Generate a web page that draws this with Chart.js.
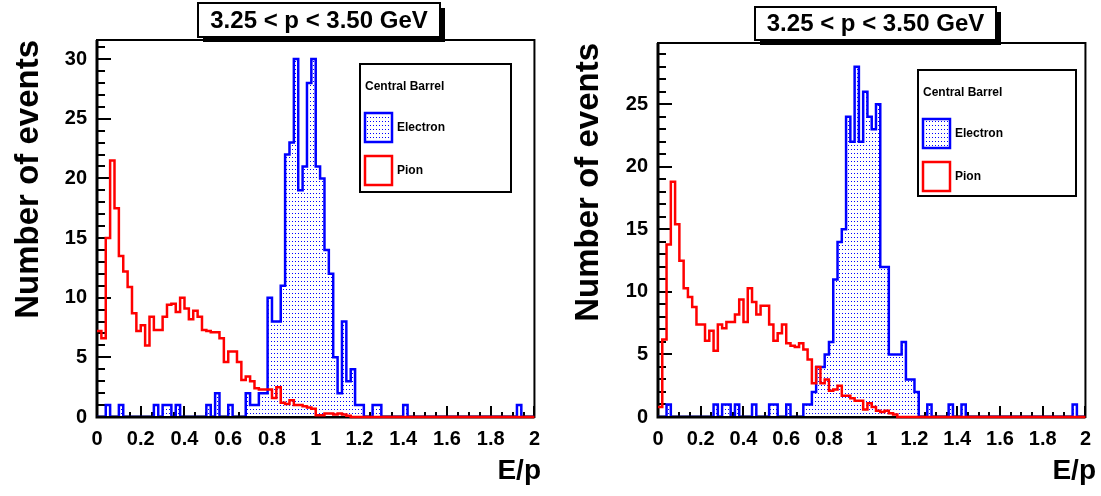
<!DOCTYPE html>
<html>
<head>
<meta charset="utf-8">
<script src="https://cdn.jsdelivr.net/npm/chart.js@4.4.0/dist/chart.umd.min.js"></script>
<style>
  html, body { margin: 0; padding: 0; background: #fff; }
  #wrap { position: relative; width: 1101px; height: 496px; overflow: hidden; }
  canvas { position: absolute; top: 0; }
  #left { left: 0; }
  #right { left: 550px; }
</style>
</head>
<body>
<div id="wrap">
  <canvas id="left" width="550" height="496" style="width:550px;height:496px"></canvas>
  <canvas id="right" width="551" height="496" style="width:551px;height:496px"></canvas>
</div>
<script>
        // histogram binning: 100 bins on E/p from 0 to 2
        const binLow = Array.from({length: 100}, (_, i) => +(i * 0.02).toFixed(2));
        const binHigh = 2;

        const xTicks = [0, 0.2, 0.4, 0.6, 0.8, 1, 1.2, 1.4, 1.6, 1.8, 2];
        const yTicksLeft = [0, 5, 10, 15, 20, 25, 30];
        const yTicksRight = [0, 5, 10, 15, 20, 25];

        const titleText = '3.25 < p < 3.50 GeV';
        const legendHeader = 'Central Barrel';
        const seriesNames = ['Electron', 'Pion'];
        const xTitle = 'E/p';
        const yTitle = 'Number of events';

        // left pad
        const electronLeft = [
            0, 0, 1, 0, 0, 1, 0, 0, 0, 0,
            0, 0, 0, 1, 0, 1, 1, 0, 1, 0,
            0, 0, 0, 0, 0, 1, 0, 2, 0, 0,
            1, 0, 0, 0, 2, 1, 1, 2, 2, 10,
            8, 8, 11, 22, 23, 30, 19, 21, 28, 30,
            21, 20, 14, 12, 5, 2, 8, 3, 4, 1,
            1, 0, 0, 1, 1, 0, 0, 0, 0, 0,
            1, 0, 0, 0, 0, 0, 0, 0, 0, 0,
            0, 0, 0, 0, 0, 0, 0, 0, 0, 0,
            0, 0, 0, 0, 0, 0, 1, 0, 0, 0
        ];
        const pionLeft = [
            7.2, 6.6, 15.0, 21.5, 17.5, 13.5, 12.2, 10.9, 8.7, 7.2,
            7.7, 6.0, 8.4, 7.3, 7.3, 8.4, 9.4, 9.5, 8.8, 10.0,
            9.1, 8.2, 8.9, 8.4, 7.3, 7.2, 7.1, 7.1, 6.6, 4.6,
            5.5, 5.5, 4.6, 3.1, 3.4, 3.0, 2.4, 2.3, 2.3, 2.3,
            1.6, 2.5, 1.2, 1.1, 1.4, 1.0, 1.0, 0.9, 0.8, 0.7,
            0.15, 0.15, 0.3, 0.3, 0.2, 0.3, 0.2, 0.1, 0, 0,
            0, 0, 0, 0, 0, 0, 0, 0, 0, 0,
            0, 0, 0, 0, 0, 0, 0, 0, 0, 0,
            0, 0, 0, 0, 0, 0, 0, 0, 0, 0,
            0, 0, 0, 0, 0, 0, 0, 0, 0, 0
        ];

        // right pad
        const electronRight = [
            0, 0, 1, 0, 0, 0, 0, 0, 0, 0,
            0, 0, 0, 1, 0, 1, 1, 0, 1, 0,
            0, 0, 1, 0, 0, 0, 1, 1, 0, 0,
            1, 0, 0, 0, 1, 1, 2, 4, 4, 5,
            6, 11, 14, 15, 24, 22, 28, 22, 26, 24,
            23, 25, 12, 12, 5, 5, 5, 6, 3, 3,
            2, 0, 0, 1, 0, 0, 0, 0, 1, 0,
            0, 1, 0, 0, 0, 0, 0, 0, 0, 0,
            0, 0, 0, 0, 0, 0, 0, 0, 0, 0,
            0, 0, 0, 0, 0, 0, 0, 1, 0, 0
        ];
        const pionRight = [
            0.8, 6.2, 13.8, 18.8, 15.4, 12.5, 10.3, 9.6, 8.8, 7.4,
            7.4, 6.1, 6.9, 5.3, 7.4, 7.1, 7.6, 7.6, 8.2, 9.4,
            7.6, 10.3, 9.2, 8.2, 8.9, 8.9, 7.4, 6.1, 6.7, 7.4,
            5.9, 5.7, 5.6, 5.9, 5.4, 4.6, 2.7, 4.0, 2.7, 3.0,
            2.1, 2.2, 2.5, 1.7, 1.7, 1.5, 1.3, 1.3, 0.6, 1.1,
            0.8, 0.5, 0.4, 0.5, 0.3, 0.2, 0, 0, 0, 0,
            0, 0, 0, 0, 0, 0, 0, 0, 0, 0,
            0, 0, 0, 0, 0, 0, 0, 0, 0, 0,
            0, 0, 0, 0, 0, 0, 0, 0, 0, 0,
            0, 0, 0, 0, 0, 0, 0, 0, 0, 0
        ];

        const FONT = "'Liberation Sans', Arial, Helvetica, sans-serif";
        Chart.defaults.font.family = FONT;
        Chart.defaults.color = '#000';

        // step points: value held from each bin's low edge to the next
        function toSteps(values) {
            const pts = binLow.map((x, i) => ({x: x, y: values[i]}));
            pts.push({x: binHigh, y: values[values.length - 1]});
            return pts;
        }

        // sparse blue dots, like ROOT fill style 3001
        function dotPattern(ctx) {
            const c = document.createElement('canvas');
            c.width = 3; c.height = 4;
            const g = c.getContext('2d');
            g.fillStyle = '#ffffff';
            g.fillRect(0, 0, 3, 4);
            g.fillStyle = '#0000ff';
            g.fillRect(1, 1, 1, 1);
            return ctx.createPattern(c, 'repeat');
        }

        function line(ctx, x1, y1, x2, y2) {
            ctx.beginPath();
            ctx.moveTo(x1, y1);
            ctx.lineTo(x2, y2);
            ctx.stroke();
        }

        // ROOT-style frame, inward ticks, title box, legend and axis titles
        const rootDecor = {
            id: 'rootDecor',
            beforeDatasetsDraw(chart, args, o) {
                const {ctx, chartArea: a, scales: {x, y}} = chart;
                ctx.save();
                ctx.strokeStyle = '#000';
                ctx.lineWidth = 2;
                ctx.strokeRect(a.left, a.top, a.right - a.left, a.bottom - a.top);
                ctx.lineWidth = 3;
                ctx.beginPath();
                ctx.moveTo(a.left, a.top);
                ctx.lineTo(a.left, a.bottom);
                ctx.lineTo(a.right, a.bottom);
                ctx.stroke();
                ctx.lineWidth = 2;
                for (let k = 0; k <= 40; k++) {
                    const px = Math.round(x.getPixelForValue(k * 0.05));
                    line(ctx, px, a.bottom, px, a.bottom - (k % 4 === 0 ? 11 : 5));
                }
                for (let v = 0; v <= Math.floor(y.max); v++) {
                    const py = Math.round(y.getPixelForValue(v));
                    line(ctx, a.left, py, a.left + (v % 5 === 0 ? 14 : 8), py);
                }
                ctx.restore();
            },
            afterDraw(chart, args, o) {
                const {ctx, chartArea: a} = chart;
                ctx.save();
                ctx.fillStyle = '#000';

                // axis titles
                ctx.font = 'bold 28px ' + FONT;
                ctx.textAlign = 'right';
                ctx.textBaseline = 'alphabetic';
                ctx.fillText(xTitle, o.xTitleX, 479);
                ctx.save();
                ctx.translate(o.yTitleX, a.top);
                ctx.rotate(-Math.PI / 2);
                ctx.font = 'bold 33px ' + FONT;
                ctx.fillText(yTitle, 0, 0);
                ctx.restore();

                // title box with shadow
                const t = o.titleBox;
                ctx.fillStyle = '#000';
                ctx.fillRect(t.x + 5, t.y + 5, t.w, t.h);
                ctx.fillStyle = '#fff';
                ctx.fillRect(t.x, t.y, t.w, t.h);
                ctx.strokeStyle = '#000';
                ctx.lineWidth = 2;
                ctx.strokeRect(t.x, t.y, t.w, t.h);
                ctx.fillStyle = '#000';
                ctx.font = 'bold 24px ' + FONT;
                ctx.textAlign = 'center';
                ctx.textBaseline = 'middle';
                ctx.fillText(titleText, t.x + t.w / 2, t.y + t.h / 2 + 1);

                // legend
                const L = o.legend;
                ctx.fillStyle = '#fff';
                ctx.fillRect(L.x, L.y, L.w, L.h);
                ctx.strokeStyle = '#000';
                ctx.strokeRect(L.x, L.y, L.w, L.h);
                ctx.fillStyle = '#000';
                ctx.font = 'bold 12px ' + FONT;
                ctx.textAlign = 'left';
                ctx.fillText(legendHeader, L.x + 5, L.y + 23);
                ctx.fillStyle = chart.data.datasets[1].backgroundColor;
                ctx.fillRect(L.x + 5, L.y + 49, 27, 29);
                ctx.lineWidth = 2.5;
                ctx.strokeStyle = '#0000ff';
                ctx.strokeRect(L.x + 5, L.y + 49, 27, 29);
                ctx.strokeStyle = '#ff0000';
                ctx.strokeRect(L.x + 5, L.y + 92, 27, 29);
                ctx.fillStyle = '#000';
                ctx.fillText(seriesNames[0], L.x + 37, L.y + 64);
                ctx.fillText(seriesNames[1], L.x + 37, L.y + 107);
                ctx.restore();
            }
        };

        function makePanel(id, electron, pion, yMax, yTicks, layout) {
            const ctx = document.getElementById(id).getContext('2d');
            return new Chart(ctx, {
                type: 'line',
                data: {
                    datasets: [
                        {
                            label: seriesNames[1],
                            data: toSteps(pion),
                            borderColor: '#ff0000',
                            borderWidth: 2.5,
                            stepped: 'before',
                            pointRadius: 0,
                            fill: false,
                            order: 0,
                            clip: {left: 2, top: 2, right: 2, bottom: 2}
                        },
                        {
                            label: seriesNames[0],
                            data: toSteps(electron),
                            borderColor: '#0000ff',
                            backgroundColor: dotPattern(ctx),
                            borderWidth: 2.5,
                            stepped: 'before',
                            pointRadius: 0,
                            fill: 'origin',
                            order: 1,
                            clip: {left: 0, top: 2, right: 0, bottom: -1}
                        }
                    ]
                },
                options: {
                    responsive: false,
                    animation: false,
                    layout: {padding: {left: 0, top: layout.top, right: layout.right, bottom: 0}},
                    scales: {
                        x: {
                            type: 'linear',
                            min: 0,
                            max: 2,
                            grid: {display: false, drawTicks: false},
                            border: {display: false},
                            afterFit: s => { s.height = 79; },
                            afterBuildTicks: s => { s.ticks = xTicks.map(v => ({value: v})); },
                            ticks: {
                                autoSkip: false,
                                maxRotation: 0,
                                padding: 10,
                                font: {size: 20, weight: 'bold'},
                                callback: v => String(v)
                            }
                        },
                        y: {
                            type: 'linear',
                            min: 0,
                            max: yMax,
                            grid: {display: false, drawTicks: false},
                            border: {display: false},
                            afterFit: s => { s.width = layout.left; },
                            afterBuildTicks: s => { s.ticks = yTicks.map(v => ({value: v})); },
                            ticks: {
                                padding: 10,
                                font: {size: 20, weight: 'bold'},
                                callback: v => String(v)
                            }
                        }
                    },
                    plugins: {
                        legend: {display: false},
                        tooltip: {enabled: false},
                        rootDecor: layout.decor
                    }
                },
                plugins: [rootDecor]
            });
        }

        makePanel('left', electronLeft, pionLeft, 31.6, yTicksLeft, {
            left: 97, top: 40, right: 9,
            decor: {
                xTitleX: 541,
                yTitleX: 38,
                titleBox: {x: 198, y: 3, w: 242, h: 34},
                legend: {x: 360, y: 64, w: 151, h: 128}
            }
        });

        makePanel('right', electronRight, pionRight, 29.9, yTicksRight, {
            left: 108, top: 43, right: 8,
            decor: {
                xTitleX: 546,
                yTitleX: 48,
                titleBox: {x: 205, y: 7, w: 241, h: 33},
                legend: {x: 368, y: 70, w: 158, h: 126}
            }
        });
</script>
</body>
</html>
